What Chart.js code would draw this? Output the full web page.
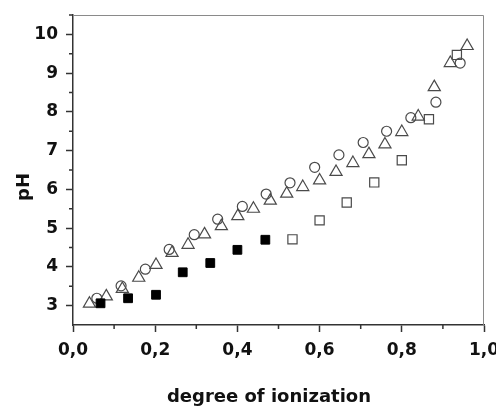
<!DOCTYPE html>
<html>
<head>
<meta charset="utf-8">
<script src="https://cdn.jsdelivr.net/npm/chart.js@4"></script>
<style>
    html, body { margin: 0; padding: 0; background: #fff; }
    #chart { display: block; }
</style>
</head>
<body>
<canvas id="chart" width="496" height="410"></canvas>
<script>
// filled squares
const filledSqX = [0.067, 0.134, 0.202, 0.267, 0.334, 0.400, 0.468];
const filledSqY = [3.06, 3.19, 3.28, 3.86, 4.10, 4.44, 4.70];

// open squares
const openSqX = [0.534, 0.600, 0.666, 0.733, 0.800, 0.866, 0.934];
const openSqY = [4.71, 5.20, 5.66, 6.18, 6.75, 7.81, 9.47];

// open circles
const circleX = [0.058, 0.117, 0.176, 0.234, 0.295, 0.352, 0.412, 0.470, 0.528, 0.588, 0.647, 0.706, 0.763, 0.822, 0.883, 0.942];
const circleY = [3.19, 3.51, 3.94, 4.45, 4.83, 5.23, 5.56, 5.88, 6.17, 6.57, 6.89, 7.21, 7.50, 7.85, 8.25, 9.26];

// open triangles
const triangleX = [0.040, 0.081, 0.120, 0.160, 0.202, 0.241, 0.280, 0.320, 0.361, 0.401, 0.439, 0.480, 0.520, 0.559, 0.600, 0.640, 0.681, 0.720, 0.759, 0.800, 0.840, 0.879, 0.918, 0.959];
const triangleY = [3.05, 3.24, 3.43, 3.72, 4.05, 4.36, 4.57, 4.84, 5.05, 5.31, 5.50, 5.71, 5.89, 6.06, 6.23, 6.45, 6.68, 6.91, 7.16, 7.48, 7.88, 8.64, 9.26, 9.70];

const xTicks = [0, 0.2, 0.4, 0.6, 0.8, 1.0];
const yTicks = [3, 4, 5, 6, 7, 8, 9, 10];
const xMinorTicks = [0.1, 0.3, 0.5, 0.7, 0.9];
const yMinorTicks = [3.5, 4.5, 5.5, 6.5, 7.5, 8.5, 9.5, 10.5];
const xTitle = "degree of ionization";
const yTitle = "pH";

const ink = "#4a4a4a";
const axisFont = { family: "'DejaVu Sans'", size: 17, weight: "bold" };

function pairs(xs, ys) {
    return xs.map(function (v, i) { return { x: v, y: ys[i] }; });
}

const framePlugin = {
    id: "frame",
    afterDraw: function (chart) {
        const ctx = chart.ctx;
        const a = chart.chartArea;
        const x = chart.scales.x;
        const y = chart.scales.y;
        ctx.save();

        // top and right frame lines
        ctx.strokeStyle = "#8a8a8a";
        ctx.lineWidth = 1;
        ctx.beginPath();
        ctx.moveTo(a.left, a.top + 0.5);
        ctx.lineTo(a.right - 0.5, a.top + 0.5);
        ctx.lineTo(a.right - 0.5, a.bottom);
        ctx.stroke();

        // minor ticks
        ctx.strokeStyle = "#333";
        ctx.lineWidth = 1.5;
        ctx.beginPath();
        xMinorTicks.forEach(function (v) {
            const px = x.getPixelForValue(v);
            ctx.moveTo(px, a.bottom);
            ctx.lineTo(px, a.bottom + 4);
        });
        yMinorTicks.forEach(function (v) {
            const py = y.getPixelForValue(v);
            ctx.moveTo(a.left, py);
            ctx.lineTo(a.left - 4, py);
        });
        ctx.stroke();

        // axis titles
        ctx.fillStyle = "#111";
        ctx.textAlign = "center";
        ctx.textBaseline = "middle";
        ctx.font = "bold 18px 'DejaVu Sans'";
        ctx.fillText(xTitle, 269, 397);
        ctx.translate(24, 187);
        ctx.rotate(-Math.PI / 2);
        ctx.fillText(yTitle, 0, 0);
        ctx.restore();
    }
};

new Chart(document.getElementById("chart").getContext("2d"), {
    type: "scatter",
    data: {
        datasets: [
            {
                label: "filled squares",
                data: pairs(filledSqX, filledSqY),
                pointStyle: "rect",
                pointRadius: 6.2,
                backgroundColor: "#000",
                borderColor: "#000",
                borderWidth: 1
            },
            {
                label: "open squares",
                data: pairs(openSqX, openSqY),
                pointStyle: "rect",
                pointRadius: 6.5,
                backgroundColor: "rgba(0,0,0,0)",
                borderColor: ink,
                borderWidth: 1.2
            },
            {
                label: "circles",
                data: pairs(circleX, circleY),
                pointStyle: "circle",
                pointRadius: 5,
                backgroundColor: "rgba(0,0,0,0)",
                borderColor: ink,
                borderWidth: 1.2
            },
            {
                label: "triangles",
                data: pairs(triangleX, triangleY),
                pointStyle: "triangle",
                pointRadius: 7,
                backgroundColor: "rgba(0,0,0,0)",
                borderColor: ink,
                borderWidth: 1.2
            }
        ]
    },
    options: {
        responsive: false,
        animation: false,
        layout: { padding: { left: 0, top: 15, right: 12, bottom: 0 } },
        plugins: {
            legend: { display: false },
            tooltip: { enabled: false }
        },
        scales: {
            x: {
                type: "linear",
                min: 0,
                max: 1,
                afterBuildTicks: function (scale) {
                    scale.ticks = xTicks.map(function (v) { return { value: v }; });
                },
                afterFit: function (scale) {
                    scale.height = 85;
                    scale.paddingLeft = 0;
                    scale.paddingRight = 0;
                },
                border: { color: "#333", width: 1.5 },
                grid: { drawOnChartArea: false, tickLength: 7, tickColor: "#333", tickWidth: 1.5 },
                ticks: {
                    padding: 8,
                    color: "#111",
                    font: axisFont,
                    maxRotation: 0,
                    autoSkip: false,
                    callback: function (v) { return v.toFixed(1).replace(".", ","); }
                }
            },
            y: {
                type: "linear",
                min: 2.5,
                max: 10.5,
                afterBuildTicks: function (scale) {
                    scale.ticks = yTicks.map(function (v) { return { value: v }; });
                },
                afterFit: function (scale) {
                    scale.width = 73;
                    scale.paddingTop = 0;
                    scale.paddingBottom = 0;
                },
                border: { color: "#333", width: 1.5 },
                grid: { drawOnChartArea: false, tickLength: 7, tickColor: "#333", tickWidth: 1.5 },
                ticks: {
                    padding: 8,
                    color: "#111",
                    font: axisFont,
                    autoSkip: false,
                    callback: function (v) { return String(v); }
                }
            }
        }
    },
    plugins: [framePlugin]
});
</script>
</body>
</html>
